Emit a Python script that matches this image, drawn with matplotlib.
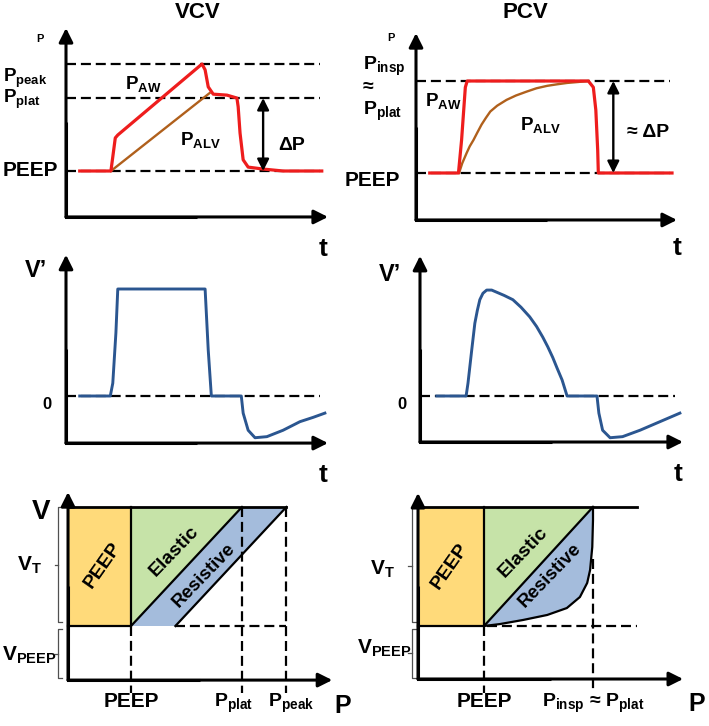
import matplotlib
matplotlib.use('Agg')
import matplotlib.pyplot as plt

plt.rcParams['font.family'] = ['Liberation Sans', 'DejaVu Sans']
plt.rcParams['font.weight'] = 'bold'
plt.rcParams['mathtext.fontset'] = 'custom'
plt.rcParams['mathtext.rm'] = 'Liberation Sans:bold'
plt.rcParams['mathtext.it'] = 'Liberation Sans:bold'
plt.rcParams['mathtext.bf'] = 'Liberation Sans:bold'
plt.rcParams['mathtext.default'] = 'rm'

# ---------------- data (time in s, pressure in cmH2O, flow in L/s, volume in L)
PEEP = 5

# VCV pressure
vcv_pplat = 20
vcv_ppeak = 27
vcv_t = [0.22, 0.72, 0.75, 0.79, 0.83, 2.18, 2.23, 2.28, 2.36, 2.58, 2.74,
         2.76, 2.79, 2.84, 2.92, 3.16, 3.48, 4.10]
vcv_paw = [5.0, 5.0, 7.9, 11.8, 12.4, 27.0, 25.8, 22.3, 20.8, 20.6, 20.0,
           18.2, 12.8, 7.3, 5.8, 5.4, 5.0, 5.0]
vcv_palv_t = [0.72, 2.30]
vcv_palv = [5.0, 21.0]

# PCV pressure
pcv_pinsp = 24
pcv_t = [0.22, 0.68, 0.73, 0.79, 0.82, 2.76, 2.84, 2.88, 2.91, 2.92, 4.10]
pcv_paw = [5.0, 5.0, 11.8, 22.7, 24.0, 24.0, 22.7, 18.0, 9.7, 5.0, 5.0]
pcv_palv_t = [0.69, 0.74, 0.81, 0.86, 0.92, 0.98, 1.05, 1.12, 1.19, 1.30, 1.45,
              1.60, 1.77, 1.93, 2.10, 2.25, 2.42, 2.60, 2.76]
pcv_palv = [5.0, 7.0, 9.1, 10.5, 11.8, 13.3, 15.0, 16.4, 17.7, 18.9, 20.1,
            21.0, 21.8, 22.5, 23.0, 23.3, 23.6, 23.8, 24.0]

# VCV flow
vcv_flow_t = [0.22, 0.71, 0.75, 0.80, 0.83, 2.23, 2.28, 2.33, 2.81, 2.84, 2.92,
              3.03, 3.22, 3.48, 3.75, 3.96, 4.15]
vcv_flow = [0.0, 0.0, 0.12, 0.59, 1.0, 1.0, 0.43, 0.0, 0.0, -0.16, -0.32,
            -0.39, -0.38, -0.32, -0.24, -0.20, -0.16]

# PCV flow
pcv_flow_t = [0.27, 0.74, 0.77, 0.83, 0.88, 0.92, 0.96, 1.01, 1.07, 1.15, 1.23,
              1.35, 1.49, 1.62, 1.76, 1.87, 1.97, 2.05, 2.13, 2.20, 2.28, 2.36,
              2.84, 2.87, 2.93, 3.05, 3.25, 3.53, 3.85, 4.17]
pcv_flow = [0.0, 0.0, 0.12, 0.43, 0.68, 0.80, 0.90, 0.96, 0.99, 0.99, 0.97,
            0.94, 0.90, 0.83, 0.74, 0.65, 0.55, 0.46, 0.36, 0.26, 0.15, 0.0,
            0.0, -0.16, -0.32, -0.39, -0.38, -0.32, -0.24, -0.16]

# PV diagrams
v_peep = 0.25
v_end = 0.80
pv_vcv_pplat = 20
pv_vcv_ppeak = 26
pv_pcv_pinsp = 20
pcv_pv_p = [5.0, 7.2, 10.4, 13.7, 16.4, 18.2, 19.2, 19.6, 19.9, 20.0, 20.0]
pcv_pv_v = [0.25, 0.259, 0.278, 0.301, 0.333, 0.384, 0.449, 0.509, 0.615, 0.74, 0.80]

RED = '#ee1d1d'
BROWN = '#b0601c'
BLUE = '#2b5690'
YELLOW = '#ffda7a'
GREEN = '#c6e3a8'
LBLUE = '#a4bcdc'

W, H = 709, 726
fig = plt.figure(figsize=(W / 100, H / 100), dpi=100)


def panel(px0, px1, x0, x1, py0, py1, y0, y1):
    # full-figure transparent axes; data x0 sits at pixel px0, etc.
    sx = (px1 - px0) / (x1 - x0)
    sy = (py0 - py1) / (y1 - y0)
    ax = fig.add_axes([0, 0, 1, 1])
    ax.set_xlim(x0 - px0 / sx, x0 + (W - px0) / sx)
    ax.set_ylim(y0 - (H - py0) / sy, y0 + py0 / sy)
    ax.set_axis_off()
    ax.set_facecolor('none')
    return ax


def arrow(ax, start, end, style, lw=2.2, ms=14):
    ax.annotate('', xy=end, xytext=start,
                arrowprops=dict(arrowstyle=style, lw=lw, color='k',
                                shrinkA=0, shrinkB=0, mutation_scale=ms))


def frame(ax, x0, y0, xtip, ytop):
    ax.plot([x0, x0, (x0 + xtip) / 2], [(y0 + ytop) / 2, y0, y0], color='k',
            lw=2.2, solid_joinstyle='miter', solid_capstyle='butt')
    head = '-|>,head_length=0.6,head_width=0.3'
    arrow(ax, (x0, y0), (x0, ytop), head)
    arrow(ax, (x0, y0), (xtip, y0), head)


def dashed(ax, xs, ys, lw=1.6):
    ax.plot(xs, ys, color='k', lw=lw, dashes=(4.5, 2.2))


def brace(ax, x, v0, v1, vm, stub, tick):
    ax.plot([x + stub, x, x, x + stub], [v1, v1, v0, v0], color='#505050', lw=0.9)
    ax.plot([x, x - tick], [vm, vm], color='#505050', lw=0.9)


dbl = '<|-|>,head_length=0.5,head_width=0.25'

# ---------------- VCV pressure
ax1 = panel(66, 328, 0, 4.2, 171, 64, 5, 27)
frame(ax1, 0, -4.45, 4.2, 34.4)
for lev in (vcv_ppeak, vcv_pplat, PEEP):
    dashed(ax1, [0, 4.07], [lev, lev])
ax1.plot(vcv_palv_t, vcv_palv, color=BROWN, lw=1.7)
ax1.plot(vcv_t, vcv_paw, color=RED, lw=2.3, solid_joinstyle='round')
arrow(ax1, (3.16, PEEP), (3.16, vcv_pplat), dbl, lw=1.7)
ax1.text(-0.42, 32.1, 'P', fontsize=8, ha='center', va='center')
ax1.text(-1.01, 23.4, r'P$_{peak}$', fontsize=13.5, ha='left', va='baseline')
ax1.text(-1.01, 19.0, r'P$_{plat}$', fontsize=13.5, ha='left', va='baseline')
ax1.text(-1.01, 5.0, 'PEEP', fontsize=15, ha='left', va='center')
ax1.text(0.95, 21.9, r'P$_{AW}$', fontsize=13.5, ha='left', va='baseline')
ax1.text(1.83, 10.3, r'P$_{ALV}$', fontsize=13.5, ha='left', va='baseline')
ax1.text(3.40, 9.3, 'ΔP', fontsize=14, ha='left', va='baseline')
ax1.text(4.12, -11.0, 't', fontsize=19, ha='center', va='center')

# ---------------- PCV pressure
ax2 = panel(416, 677, 0, 4.18, 173, 81, 5, 24)
frame(ax2, 0, -4.7, 4.18, 33.9)
for lev in (pcv_pinsp, PEEP):
    dashed(ax2, [0, 4.07], [lev, lev])
ax2.plot(pcv_palv_t, pcv_palv, color=BROWN, lw=1.7)
ax2.plot(pcv_t, pcv_paw, color=RED, lw=2.3, solid_joinstyle='round')
arrow(ax2, (3.16, PEEP), (3.16, pcv_pinsp), dbl, lw=1.7)
ax2.text(-0.40, 32.9, 'P', fontsize=8, ha='center', va='center')
ax2.text(-0.85, 26.3, r'P$_{insp}$', fontsize=14, ha='left', va='baseline')
ax2.text(-0.85, 22.6, '≈', fontsize=14, ha='left', va='center')
ax2.text(-0.85, 17.0, r'P$_{plat}$', fontsize=14, ha='left', va='baseline')
ax2.text(-1.14, 3.35, 'PEEP', fontsize=15, ha='left', va='center')
ax2.text(0.14, 18.8, r'P$_{AW}$', fontsize=13.5, ha='left', va='baseline')
ax2.text(1.67, 13.9, r'P$_{ALV}$', fontsize=13.5, ha='left', va='baseline')
ax2.text(3.38, 12.4, '≈ ΔP', fontsize=14, ha='left', va='baseline')
ax2.text(4.18, -10.5, 't', fontsize=19, ha='center', va='center')

fig.text(198 / W, 1 - 13 / H, 'VCV', fontsize=16, ha='center', va='center')
fig.text(525 / W, 1 - 13 / H, 'PCV', fontsize=16, ha='center', va='center')

# ---------------- VCV flow
ax3 = panel(66, 328, 0, 4.2, 396, 289, 0, 1)
frame(ax3, 0, -0.44, 4.2, 1.32)
dashed(ax3, [0, 4.07], [0, 0])
ax3.plot(vcv_flow_t, vcv_flow, color=BLUE, lw=2.1, solid_joinstyle='round')
ax3.text(-0.48, 1.17, 'V’', fontsize=17, ha='center', va='center')
ax3.text(-0.30, -0.075, '0', fontsize=12, ha='center', va='center')
ax3.text(4.12, -0.74, 't', fontsize=19, ha='center', va='center')

# ---------------- PCV flow
ax4 = panel(420, 683, 0, 4.22, 396, 289, 0, 1)
frame(ax4, 0, -0.43, 4.22, 1.31)
dashed(ax4, [0, 4.09], [0, 0])
ax4.plot(pcv_flow_t, pcv_flow, color=BLUE, lw=2.1, solid_joinstyle='round')
ax4.text(-0.48, 1.14, 'V’', fontsize=17, ha='center', va='center')
ax4.text(-0.29, -0.075, '0', fontsize=12, ha='center', va='center')
ax4.text(4.14, -0.73, 't', fontsize=19, ha='center', va='center')

# ---------------- VCV PV
ax5 = panel(131, 242, 5, 20, 626, 507, v_peep, v_end)
p0 = -3.51
res = pv_vcv_ppeak - pv_vcv_pplat
ax5.fill([p0, PEEP, PEEP, p0], [v_peep, v_peep, v_end, v_end], color=YELLOW, lw=0)
ax5.fill([PEEP, PEEP, pv_vcv_pplat], [v_peep, v_end, v_end], color=GREEN, lw=0)
ax5.fill([PEEP, PEEP + res, pv_vcv_ppeak, pv_vcv_pplat],
         [v_peep, v_peep, v_end, v_end], color=LBLUE, lw=0)
dashed(ax5, [PEEP + res, pv_vcv_ppeak], [v_peep, v_peep])
for pp in (PEEP, pv_vcv_pplat, pv_vcv_ppeak):
    dashed(ax5, [pp, pp], [v_end if pp != PEEP else v_peep, -0.06])
ax5.plot([p0, PEEP, PEEP], [v_peep, v_peep, v_end], color='k', lw=1.6)
ax5.plot([PEEP, pv_vcv_pplat], [v_peep, v_end], color='k', lw=1.6)
ax5.plot([PEEP + res, pv_vcv_ppeak], [v_peep, v_end], color='k', lw=1.6)
ax5.plot([p0, pv_vcv_ppeak], [v_end, v_end], color='k', lw=2.0)
frame(ax5, p0, 0.0, 32.2, 0.869)
brace(ax5, -4.80, 0.268, v_end, 0.532, 0.48, 0.47)
brace(ax5, -4.80, 0.01, 0.236, 0.121, 0.48, 0.47)
ax5.text(-7.16, 0.777, 'V', fontsize=20, ha='center', va='center')
ax5.text(-10.4, 0.532, r'V$_{T}$', fontsize=15, ha='left', va='center')
ax5.text(-12.4, 0.116, r'V$_{PEEP}$', fontsize=15, ha='left', va='center')
ax5.text(PEEP, -0.124, 'PEEP', fontsize=15, ha='center', va='baseline')
ax5.text(18.8, -0.124, r'P$_{plat}$', fontsize=14, ha='center', va='baseline')
ax5.text(26.6, -0.124, r'P$_{peak}$', fontsize=14, ha='center', va='baseline')
ax5.text(33.6, -0.12, 'P', fontsize=18, ha='center', va='center')
ax5.text(1.2, 0.532, 'PEEP', fontsize=14, rotation=55, ha='center', va='center')
ax5.text(10.9, 0.597, 'Elastic', fontsize=14, rotation=46, ha='center', va='center')
ax5.text(14.9, 0.486, 'Resistive', fontsize=13.5, rotation=46, ha='center', va='center')

# ---------------- PCV PV
ax6 = panel(484, 593, 5, 20, 626, 507, v_peep, v_end)
p0 = -4.08
ax6.fill([p0, PEEP, PEEP, p0], [v_peep, v_peep, v_end, v_end], color=YELLOW, lw=0)
ax6.fill([PEEP, PEEP, pv_pcv_pinsp], [v_peep, v_end, v_end], color=GREEN, lw=0)
ax6.fill(pcv_pv_p, pcv_pv_v, color=LBLUE, lw=0)
dashed(ax6, [PEEP + 0.4, 26.0], [v_peep, v_peep])
dashed(ax6, [PEEP, PEEP], [v_peep, -0.06])
dashed(ax6, [pv_pcv_pinsp, pv_pcv_pinsp], [0.56, -0.06])
ax6.plot([p0, PEEP, PEEP], [v_peep, v_peep, v_end], color='k', lw=1.6)
ax6.plot([PEEP, pv_pcv_pinsp], [v_peep, v_end], color='k', lw=1.6)
ax6.plot(pcv_pv_p, pcv_pv_v, color='k', lw=1.6)
ax6.plot([p0, 26.0], [v_end, v_end], color='k', lw=2.0)
frame(ax6, p0, 0.005, 32.4, 0.865)
brace(ax6, -4.9, 0.268, v_end, 0.527, 0.55, 0.5)
brace(ax6, -4.9, 0.01, 0.236, 0.125, 0.55, 0.5)
ax6.text(-10.7, 0.513, r'V$_{T}$', fontsize=15, ha='left', va='center')
ax6.text(-12.5, 0.148, r'V$_{PEEP}$', fontsize=15, ha='left', va='center')
ax6.text(PEEP, -0.124, 'PEEP', fontsize=15, ha='center', va='baseline')
ax6.text(pv_pcv_pinsp, -0.124, r'P$_{insp}$ ≈ P$_{plat}$', fontsize=14,
         ha='center', va='baseline')
ax6.text(34.3, -0.11, 'P', fontsize=18, ha='center', va='center')
ax6.text(0.32, 0.527, 'PEEP', fontsize=14, rotation=55, ha='center', va='center')
ax6.text(10.4, 0.592, 'Elastic', fontsize=14, rotation=46, ha='center', va='center')
ax6.text(14.1, 0.486, 'Resistive', fontsize=13.5, rotation=46, ha='center', va='center')

fig.savefig('out.png', dpi=100, facecolor='white')
